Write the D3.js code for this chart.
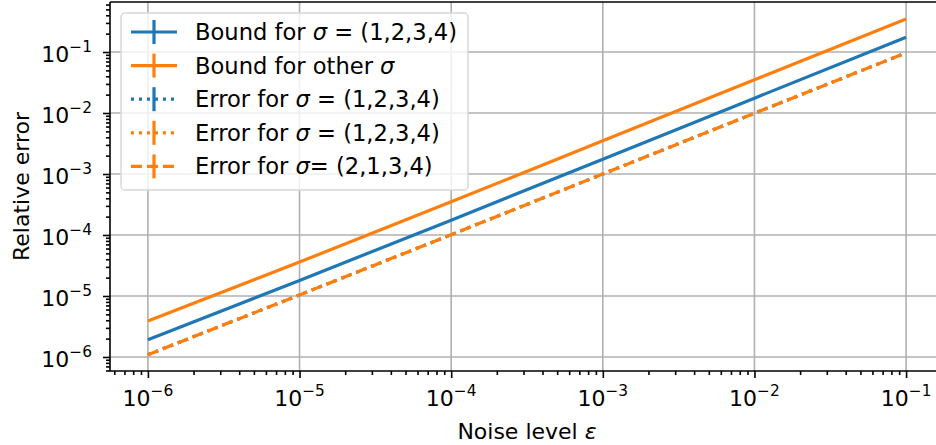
<!DOCTYPE html>
<html>
<head>
<meta charset="utf-8">
<script src="https://cdn.jsdelivr.net/npm/d3@7"></script>
<style>
  body { margin: 0; background: #fff; }
  svg { display: block; font-family: "DejaVu Sans", sans-serif; }
</style>
</head>
<body>
<svg id="chart" width="936" height="445"></svg>
<script>
// ---- data ----
const noiseLevels = [1e-6, 1e-5, 1e-4, 1e-3, 1e-2, 1e-1];
const boundSigma1234 = [1.92e-6, 1.8e-5, 1.75e-4, 1.75e-3, 1.75e-2, 0.175];
const boundOther = [3.9e-6, 3.6e-5, 3.5e-4, 3.5e-3, 3.5e-2, 0.348];
const errorSigma1234Blue = [1.09e-6, 1.04e-5, 1.01e-4, 1.0e-3, 9.9e-3, 0.097];
const errorSigma1234Orange = [1.09e-6, 1.04e-5, 1.01e-4, 1.0e-3, 9.9e-3, 0.097];
const errorSigma2134 = [1.09e-6, 1.04e-5, 1.01e-4, 1.0e-3, 9.9e-3, 0.097];
const xTickExponents = [-6, -5, -4, -3, -2, -1];
const yTickExponents = [-6, -5, -4, -3, -2, -1];

const series = [
  { name: "Bound for ", sym: "σ", rest: " = (1,2,3,4)", values: boundSigma1234, color: "#1f77b4", dash: null },
  { name: "Bound for other ", sym: "σ", rest: "", values: boundOther, color: "#ff7f0e", dash: null },
  { name: "Error for ", sym: "σ", rest: " = (1,2,3,4)", values: errorSigma1234Blue, color: "#1f77b4", dash: "3,5" },
  { name: "Error for ", sym: "σ", rest: " = (1,2,3,4)", values: errorSigma1234Orange, color: "#ff7f0e", dash: "3,5" },
  { name: "Error for ", sym: "σ", rest: "= (2,1,3,4)", values: errorSigma2134, color: "#ff7f0e", dash: "11,5" }
];

(function () {
// ---- layout ----
const svg = d3.select("#chart");
const mLeft = 110, mRight = 944, mTop = 2, mBottom = 371;
const x = d3.scaleLog().domain([Math.pow(10, -6.25), Math.pow(10, -0.75)]).range([mLeft, mRight]);
const y = d3.scaleLog().domain([Math.pow(10, -6.23), Math.pow(10, -0.18)]).range([mBottom, mTop]);

svg.append("clipPath").attr("id", "clip")
  .append("rect").attr("x", mLeft).attr("y", mTop).attr("width", mRight - mLeft).attr("height", mBottom - mTop);

function minorTicks(scale) {
  const [a, b] = scale.domain();
  const out = [];
  for (let e = Math.floor(Math.log10(a)); e <= Math.ceil(Math.log10(b)); e++) {
    for (let m = 2; m <= 9; m++) {
      const v = m * Math.pow(10, e);
      if (v >= a && v <= b) out.push(v);
    }
  }
  return out;
}
const xMajor = xTickExponents.map(e => Math.pow(10, e));
const yMajor = yTickExponents.map(e => Math.pow(10, e));

// grid
const grid = svg.append("g");
grid.selectAll(".gx").data(xMajor).join("line")
  .attr("x1", d => x(d)).attr("x2", d => x(d)).attr("y1", mTop).attr("y2", mBottom)
  .attr("stroke", "#b0b0b0").attr("stroke-width", 1.6);
grid.selectAll(".gy").data(yMajor).join("line")
  .attr("x1", mLeft).attr("x2", mRight).attr("y1", d => y(d)).attr("y2", d => y(d))
  .attr("stroke", "#b0b0b0").attr("stroke-width", 1.6);

// lines
const lineGen = d3.line().x((d, i) => x(noiseLevels[i])).y(d => y(d));
const plot = svg.append("g").attr("clip-path", "url(#clip)");
series.forEach(s => {
  plot.append("path").datum(s.values)
    .attr("d", lineGen)
    .attr("fill", "none")
    .attr("stroke", s.color)
    .attr("stroke-width", 3.2)
    .attr("stroke-dasharray", s.dash);
});

// axes
const xAxis = svg.append("g").attr("transform", `translate(0,${mBottom})`);
xAxis.call(d3.axisBottom(x).tickValues(xMajor).tickSize(7).tickFormat(""));
xAxis.append("g").call(d3.axisBottom(x).tickValues(minorTicks(x)).tickSize(4).tickFormat(""));
xAxis.selectAll(".domain").remove();
xAxis.selectAll("line").attr("stroke", "#000").attr("stroke-width", 1.6);

const yAxis = svg.append("g").attr("transform", `translate(${mLeft},0)`);
yAxis.call(d3.axisLeft(y).tickValues(yMajor).tickSize(7).tickFormat(""));
yAxis.append("g").call(d3.axisLeft(y).tickValues(minorTicks(y)).tickSize(4).tickFormat(""));
yAxis.selectAll(".domain").remove();
yAxis.selectAll("line").attr("stroke", "#000").attr("stroke-width", 1.6);

// spines
svg.append("line").attr("x1", mLeft).attr("x2", mLeft).attr("y1", mTop).attr("y2", mBottom)
  .attr("stroke", "#000").attr("stroke-width", 1.6);
svg.append("line").attr("x1", mLeft).attr("x2", mRight).attr("y1", mBottom).attr("y2", mBottom)
  .attr("stroke", "#000").attr("stroke-width", 1.6);
svg.append("line").attr("x1", mLeft).attr("x2", mRight).attr("y1", mTop).attr("y2", mTop)
  .attr("stroke", "#000").attr("stroke-width", 1.6);

// tick labels
const fs = 22;
xTickExponents.forEach(e => {
  const t = svg.append("text").attr("x", x(Math.pow(10, e))).attr("y", 406)
    .attr("text-anchor", "middle").attr("font-size", fs).attr("fill", "#000");
  t.append("tspan").text("10");
  t.append("tspan").attr("dy", -10).attr("font-size", fs * 0.7).text("−" + Math.abs(e));
});
yTickExponents.forEach(e => {
  const t = svg.append("text").attr("x", 92).attr("y", y(Math.pow(10, e)) + 10)
    .attr("text-anchor", "end").attr("font-size", fs).attr("fill", "#000");
  t.append("tspan").text("10");
  t.append("tspan").attr("dy", -10).attr("font-size", fs * 0.7).text("−" + Math.abs(e));
});

// axis labels
const xl = svg.append("text").attr("x", (mLeft + mRight) / 2).attr("y", 439)
  .attr("text-anchor", "middle").attr("font-size", fs).attr("fill", "#000");
xl.append("tspan").text("Noise level ");
xl.append("tspan").attr("font-style", "italic").text("ε");

svg.append("text").attr("transform", `translate(29,${(mTop + mBottom) / 2}) rotate(-90)`)
  .attr("text-anchor", "middle").attr("font-size", fs).attr("fill", "#000")
  .text("Relative error");

// legend
const lfs = 22.6;
const lg = svg.append("g");
lg.append("rect").attr("x", 121).attr("y", 13).attr("width", 347).attr("height", 177)
  .attr("rx", 4).attr("fill", "#fff").attr("fill-opacity", 0.8)
  .attr("stroke", "#d6d6d6").attr("stroke-width", 1.4);
const rowY = i => 32 + i * 33.6;
series.forEach((s, i) => {
  const cy = rowY(i);
  lg.append("line").attr("x1", 131).attr("x2", 177).attr("y1", cy).attr("y2", cy)
    .attr("stroke", s.color).attr("stroke-width", 3.2).attr("stroke-dasharray", s.dash);
  lg.append("line").attr("x1", 154).attr("x2", 154).attr("y1", cy - 12).attr("y2", cy + 12)
    .attr("stroke", s.color).attr("stroke-width", 3.2);
  const t = lg.append("text").attr("x", 195).attr("y", cy + 8)
    .attr("font-size", lfs).attr("fill", "#000");
  t.append("tspan").text(s.name);
  t.append("tspan").attr("font-style", "italic").text(s.sym);
  t.append("tspan").text(s.rest);
});
})();
</script>
</body>
</html>
